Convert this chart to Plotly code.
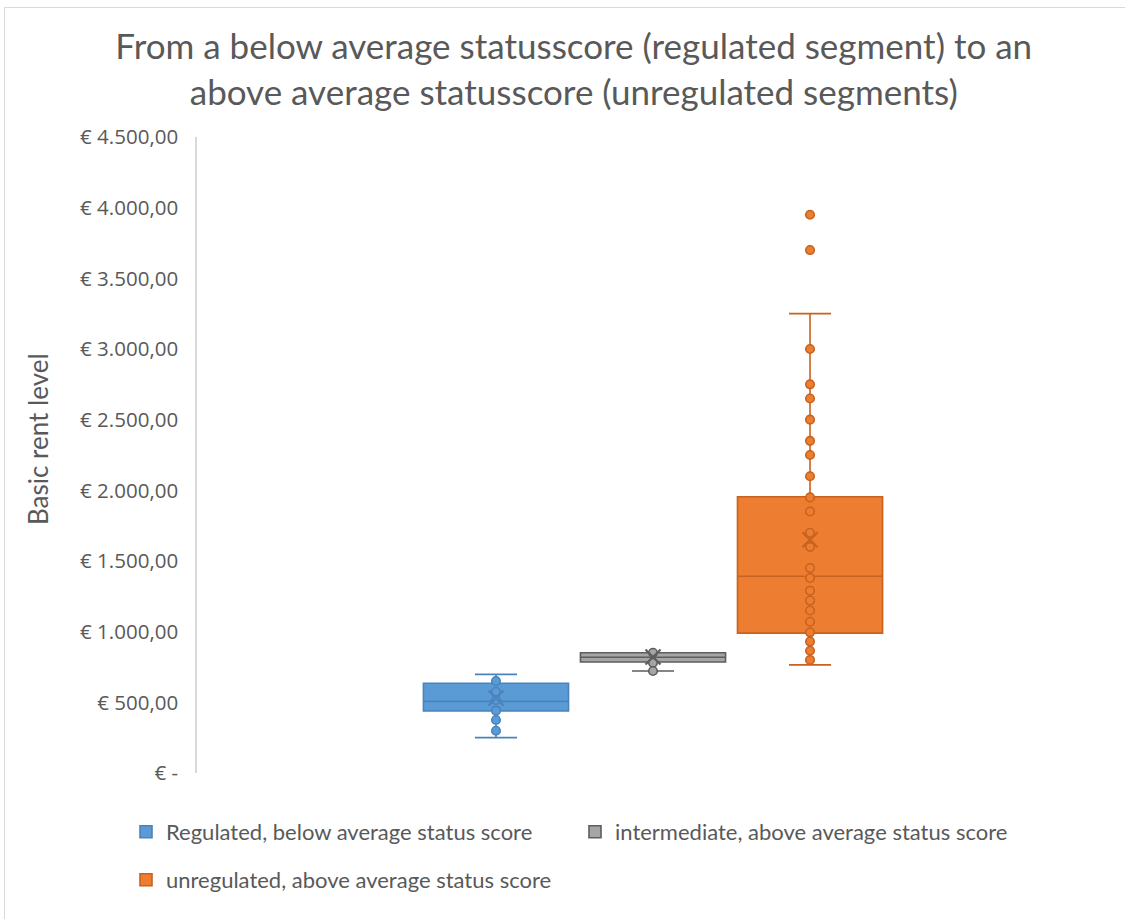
import plotly.graph_objects as go

# Series names
series = [
    "Regulated, below average status score",
    "intermediate, above average status score",
    "unregulated, above average status score",
]

# Box statistics (basic rent level, EUR)
q1 = [439, 785, 990]
median = [507, 819, 1392]
q3 = [635, 851, 1955]
lower_whisker = [250, 722, 765]
upper_whisker = [698, 851, 3250]
mean = [531, 821, 1650]

# Individual observations plotted on each box
points_regulated = [651, 575, 517, 441, 375, 299]
points_intermediate = [851, 780, 722]
points_unregulated = [
    3950, 3700, 3000, 2750, 2650, 2500, 2350, 2250, 2100, 1950, 1850,
    1700, 1600, 1450, 1380, 1290, 1220, 1150, 1070, 995, 930, 865, 800,
]
points = [points_regulated, points_intermediate, points_unregulated]

# Axis ticks
tick_values = [0, 500, 1000, 1500, 2000, 2500, 3000, 3500, 4000, 4500]
tick_labels = [
    "€ -", "€ 500,00", "€ 1.000,00", "€ 1.500,00", "€ 2.000,00",
    "€ 2.500,00", "€ 3.000,00", "€ 3.500,00", "€ 4.000,00", "€ 4.500,00",
]

fills = ["#5B9BD5", "#A5A5A5", "#ED7D31"]
edges = ["#4A83BC", "#5E5E5E", "#C8621F"]

W, H = 1125, 919
ML, MR, MT, MB = 197, 16, 137, 146
PW, PH = W - ML - MR, H - MT - MB

FONT = "Lato"
TICK_FONT = "Open Sans"
GREY = "#595959"

fig = go.Figure()

for i, name in enumerate(series):
    fig.add_trace(go.Box(
        x=[name],
        q1=[q1[i]], median=[median[i]], q3=[q3[i]],
        lowerfence=[lower_whisker[i]], upperfence=[upper_whisker[i]],
        name=name,
        width=0.924,
        fillcolor=fills[i],
        line=dict(color=edges[i], width=1.6),
        whiskerwidth=0.29,
        boxpoints=False,
        legend="legend" if i < 2 else "legend2",
        hoverinfo="skip",
    ))

for i, name in enumerate(series):
    fig.add_trace(go.Scatter(
        x=[name] * len(points[i]), y=points[i],
        mode="markers",
        marker=dict(size=8.5, color=fills[i], line=dict(color=edges[i], width=1.6)),
        showlegend=False, hoverinfo="skip",
    ))
    fig.add_trace(go.Scatter(
        x=[name], y=[mean[i]],
        mode="markers",
        marker=dict(symbol="x-thin", size=15, line=dict(color=edges[i], width=2.2)),
        showlegend=False, hoverinfo="skip",
    ))

# pixel -> paper coordinate helpers
def px_x(v):
    return (v - ML) / PW

def px_y(v):
    return (H - MB - v) / PH

# thin chart-area frame
fig.add_shape(type="rect", xref="paper", yref="paper",
              x0=px_x(4.5), x1=px_x(W + 10), y0=px_y(7.5), y1=px_y(H + 10),
              line=dict(color="#D9D9D9", width=1), fillcolor="rgba(0,0,0,0)", layer="below")

# vertical axis title
fig.add_annotation(
    text="Basic rent level", textangle=-90,
    xref="paper", yref="paper", x=px_x(38), y=px_y(439),
    xanchor="center", yanchor="middle", showarrow=False,
    font=dict(family=FONT, size=26, color=GREY),
)

fig.update_layout(
    width=W, height=H,
    margin=dict(l=ML, r=MR, t=MT, b=MB, autoexpand=False),
    paper_bgcolor="white", plot_bgcolor="white",
    font=dict(family=FONT, color=GREY),
    title=dict(
        text="From a below average statusscore (regulated segment) to an<br>above average statusscore (unregulated segments)",
        x=0.51, xref="container", xanchor="center",
        y=1 - 59 / H, yref="container", yanchor="middle",
        font=dict(family=FONT, size=35, color=GREY),
    ),
    xaxis=dict(
        type="category", categoryorder="array", categoryarray=series,
        range=[-1.904, 3.904], showticklabels=False, showline=False,
        showgrid=False, zeroline=False, fixedrange=True,
    ),
    yaxis=dict(
        range=[0, 4500], tickvals=tick_values, ticktext=tick_labels,
        showgrid=False, zeroline=False,
        showline=True, linecolor="#D9D9D9", linewidth=1.5,
        ticks="", ticklabelstandoff=13,
        tickfont=dict(family=TICK_FONT, size=20.5, color=GREY),
    ),
    showlegend=True,
    legend=dict(
        orientation="h", x=px_x(126), y=px_y(832), xanchor="left", yanchor="middle",
        entrywidth=404, entrywidthmode="pixels",
        font=dict(family=FONT, size=22, color=GREY), bgcolor="rgba(0,0,0,0)",
    ),
    legend2=dict(
        orientation="h", x=px_x(126), y=px_y(880), xanchor="left", yanchor="middle",
        font=dict(family=FONT, size=22, color=GREY), bgcolor="rgba(0,0,0,0)",
    ),
)

fig.write_html("out.html")
